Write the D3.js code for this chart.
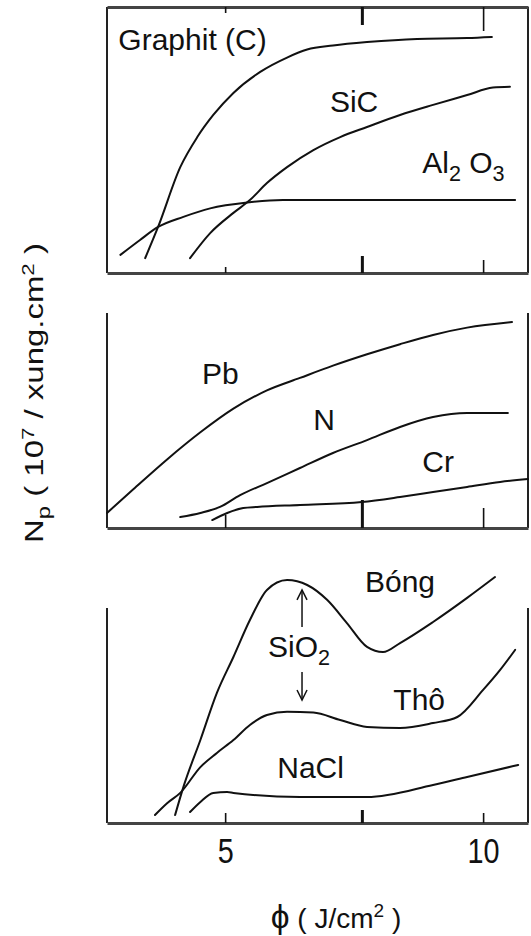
<!DOCTYPE html>
<html><head><meta charset="utf-8">
<script src="https://cdn.jsdelivr.net/npm/d3@7/dist/d3.min.js"></script>
<style>body{margin:0;background:#fff} svg{display:block}</style>
</head><body>
<svg id="c" width="531" height="936"></svg>
<script>
// ---------- data ----------
const xTicks = [5, 7.65, 10];
const xTickLabels = ["5", "", "10"];

// Panel 1
const graphitX = [3.45,3.70,4.13,4.46,4.77,5.16,5.68,6.20,6.59,7.09,7.75,8.72,9.69,10.17];
const graphitY = [0.56,1.73,3.98,5.11,5.94,6.77,7.56,8.10,8.40,8.55,8.68,8.80,8.83,8.87];
const sicX = [4.32,4.71,5.16,5.48,5.81,6.20,6.71,7.23,7.75,8.39,9.03,9.69,10.19,10.52];
const sicY = [0.56,1.50,2.26,2.74,3.38,3.98,4.62,5.11,5.49,5.94,6.32,6.69,6.97,7.00];
const al2o3X = [2.97,3.35,3.70,4.19,4.71,5.43,6.12,7.75,10.62];
const al2o3Y = [0.68,1.24,1.73,2.11,2.43,2.65,2.74,2.74,2.74];

// Panel 2
const pbX = [2.71,3.22,3.88,4.52,5.16,5.81,6.45,7.09,7.75,8.39,9.03,9.69,10.56];
const pbY = [0.70,1.80,3.20,4.45,5.55,6.40,6.98,7.55,8.08,8.55,8.98,9.32,9.58];
const nX = [4.13,4.52,4.90,5.29,5.81,6.45,7.09,7.75,8.39,9.03,9.69,10.48];
const nY = [0.51,0.70,0.98,1.53,2.09,2.79,3.49,4.09,4.70,5.16,5.35,5.35];
const crX = [4.75,5.04,5.35,5.62,6.45,7.65,8.39,9.03,9.69,10.33,10.87];
const crY = [0.37,0.70,0.93,0.98,1.07,1.21,1.44,1.67,1.91,2.14,2.28];

// Panel 3
const bongX = [4.03,4.19,4.52,4.84,5.16,5.48,5.81,6.20,6.59,6.98,7.36,7.75,8.06,8.39,9.03,9.69,10.23];
const bongY = [0.37,1.67,3.86,6.05,7.72,9.44,10.84,11.30,11.07,10.37,9.30,8.19,7.95,8.37,9.35,10.47,11.44];
const thoX = [3.64,3.88,4.13,4.52,4.84,5.16,5.48,5.81,6.20,6.71,7.23,7.75,8.39,9.03,9.50,10.00,10.33,10.62];
const thoY = [0.37,0.93,1.40,2.60,3.26,3.86,4.56,5.02,5.18,5.14,4.79,4.47,4.42,4.65,4.93,6.19,7.12,8.05];
const naclX = [4.32,4.52,4.77,5.04,5.16,6.45,7.75,9.03,9.69,10.68];
const naclY = [0.51,0.98,1.40,1.44,1.40,1.21,1.21,1.77,2.14,2.70];

// Curve labels (data coordinates of left/baseline)
const labels1 = [
  {x:2.93, y:8.38, parts:[{t:"Graphit (C)"}]},
  {x:7.03, y:6.05, parts:[{t:"SiC"}]},
  {x:8.82, y:3.76, parts:[{t:"Al"},{t:"2",sub:true},{t:" O"},{t:"3",sub:true}]}
];
const labels2 = [
  {x:4.55, y:6.70, parts:[{t:"Pb"}]},
  {x:6.71, y:4.56, parts:[{t:"N"}]},
  {x:8.82, y:2.60, parts:[{t:"Cr"}]}
];
const labels3 = [
  {x:7.71, y:10.74, parts:[{t:"Bóng"}]},
  {x:5.83, y:7.72, parts:[{t:"SiO"},{t:"2",sub:true}]},
  {x:8.26, y:5.26, parts:[{t:"Thô"}]},
  {x:6.01, y:2.09, parts:[{t:"NaCl"}]}
];
const arrows3 = [
  {x:6.49, from:9.12, to:10.84},
  {x:6.49, from:7.02, to:5.72}
];

const yLabelParts = [{t:"N"},{t:"p",sub:true},{t:" ( 10"},{t:"7",sup:true},{t:" / xung.cm"},{t:"2",sup:true},{t:" )"}];
const xLabelParts = [{t:"ϕ",big:true},{t:" ( J/cm"},{t:"2",sup:true},{t:" )"}];

// ---------- drawing ----------
const svg = d3.select("#c");
const FONT = "'Liberation Sans', Arial, Helvetica, sans-serif";
const INK = "#111";
const x = d3.scaleLinear().domain([2.71, 10.87]).range([107, 528]);

function rich(text, parts, fs) {
  let off = 0;
  parts.forEach(p => {
    const ts = text.append("tspan").text(p.t);
    let target = 0, size = fs;
    if (p.sub) { target = fs * 0.28; size = fs * 0.72; }
    if (p.sup) { target = -fs * 0.38; size = fs * 0.68; }
    if (p.big) { size = fs * 1.2; }
    ts.attr("font-size", size);
    if (target !== off) { ts.attr("dy", target - off); off = target; }
  });
}

const panels = [
  {top:7, bottom:273, topBorder:true,
   series:[[graphitX,graphitY],[sicX,sicY],[al2o3X,al2o3Y]], labels:labels1,
   botTicks:[6,17,13], topTicks:[6,18,24]},
  {top:313, bottom:528, topBorder:false,
   series:[[pbX,pbY],[nX,nY],[crX,crY]], labels:labels2,
   botTicks:[13,28,20]},
  {top:608, bottom:823, topBorder:false,
   series:[[bongX,bongY],[thoX,thoY],[naclX,naclY]], labels:labels3,
   botTicks:[10,13,10], arrows:arrows3, tickLabels:true}
];
const tickW = [1.6, 3, 1.6];

panels.forEach(P => {
  const y = d3.scaleLinear().domain([0, 10]).range([P.bottom, P.top]);
  const g = svg.append("g");

  // side borders
  g.append("line").attr("x1",107).attr("x2",107).attr("y1",P.top).attr("y2",P.bottom)
    .attr("stroke","#222").attr("stroke-width",2);
  g.append("line").attr("x1",528).attr("x2",528).attr("y1",P.top).attr("y2",P.bottom)
    .attr("stroke","#222").attr("stroke-width",2);

  // bottom axis
  const ax = g.append("g").attr("transform",`translate(0,${P.bottom})`)
    .call(d3.axisBottom(x).tickValues(xTicks).tickSize(0).tickSizeOuter(0).tickFormat((d,i)=>xTickLabels[i]));
  ax.select(".domain").attr("stroke","#444").attr("stroke-width",3.2);
  ax.selectAll(".tick line").attr("y2",(d,i)=>-P.botTicks[i]).attr("stroke",INK).attr("stroke-width",(d,i)=>tickW[i]);
  if (P.tickLabels) {
    ax.selectAll(".tick text").attr("y",40).attr("dy",null)
      .attr("font-family",FONT).attr("font-size",36).attr("fill",INK)
      .attr("transform","scale(0.8,1)");
  } else {
    ax.selectAll(".tick text").remove();
  }

  if (P.topBorder) {
    const at = g.append("g").attr("transform",`translate(0,${P.top})`)
      .call(d3.axisTop(x).tickValues(xTicks).tickSize(0).tickSizeOuter(0).tickFormat(""));
    at.select(".domain").attr("stroke","#444").attr("stroke-width",3.2);
    at.selectAll(".tick line").attr("y2",(d,i)=>P.topTicks[i]).attr("stroke",INK).attr("stroke-width",(d,i)=>tickW[i]);
    at.selectAll(".tick text").remove();
  }

  // curves
  const line = d3.line().x(d=>x(d[0])).y(d=>y(d[1])).curve(d3.curveMonotoneX);
  P.series.forEach(([xs,ys]) => {
    g.append("path").datum(xs.map((v,i)=>[v,ys[i]]))
      .attr("d",line).attr("fill","none").attr("stroke",INK)
      .attr("stroke-width",2).attr("stroke-linejoin","round").attr("stroke-linecap","round");
  });

  // labels
  P.labels.forEach(L => {
    const t = g.append("text").attr("x",x(L.x)).attr("y",y(L.y))
      .attr("font-family",FONT).attr("fill",INK);
    rich(t, L.parts, 30);
  });

  // arrows
  (P.arrows||[]).forEach(A => {
    const ax0 = x(A.x), y0 = y(A.from), y1 = y(A.to);
    const dir = y1 < y0 ? 1 : -1;
    g.append("line").attr("x1",ax0).attr("x2",ax0).attr("y1",y0).attr("y2",y1)
      .attr("stroke",INK).attr("stroke-width",1.5);
    g.append("path").attr("d",`M${ax0-5},${y1+dir*10}L${ax0},${y1}L${ax0+5},${y1+dir*10}`)
      .attr("fill","none").attr("stroke",INK).attr("stroke-width",1.5);
  });
});

// y axis title
const yg = svg.append("g").attr("transform","translate(43,393) rotate(-90)");
const yt = yg.append("text").attr("text-anchor","middle").attr("font-family",FONT).attr("fill",INK);
rich(yt, yLabelParts, 25);
const yw = yt.node().getComputedTextLength();
yt.attr("transform",`scale(${300/yw},1)`);

// x axis title
const xt = svg.append("text").attr("x",336).attr("y",928).attr("text-anchor","middle")
  .attr("font-family",FONT).attr("fill",INK);
rich(xt, xLabelParts, 28);
</script>
</body></html>
